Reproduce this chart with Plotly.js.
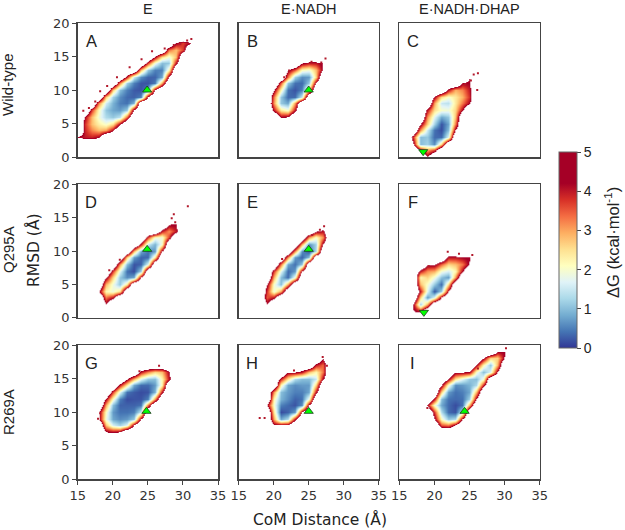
<!DOCTYPE html>
<html><head><meta charset="utf-8">
<script src="https://cdn.plot.ly/plotly-3.0.1.min.js"></script>
<style>html,body{margin:0;padding:0;background:#fff}</style></head>
<body><div id="c" style="width:625px;height:530px"></div>
<script>
const columnTitles=["E","E·NADH","E·NADH·DHAP"];
const rowTitles=["Wild-type","Q295A","R269A"];
const letters=["A","B","C","D","E","F","G","H","I"];
const xTicks=[15,20,25,30,35];
const yTicks=[0,5,10,15,20];
const cbTicks=[0,1,2,3,4,5];
const OUT=6;
// first y of each panel's table, first x of each row, dG values along the row (1 A grid)
const A_y0=3, A_xs=[15,16,16,16,17,18,19,20,21,22,24,25,26,28,29];
const A_z=[[4.2,4,3.9,4.2],[3.9,3.2,2.8,3,4.1],[3.8,2.8,2.3,2,2.5,4.2],[4.2,2.8,1.9,1.3,1.1,1.4,3.4],[3.7,2.1,1.1,.8,.7,1.1,4.6],[3.2,1.6,.9,.5,.4,.9],[2.7,1.2,.6,.35,.3,.5,4.6],[2.7,1,.5,.25,.2,.6,4.5],[3.2,1.2,.5,.2,.2,.45,3],[3.9,1.5,.6,.3,.3,.8,4.6],[2.8,1.1,.5,.5,2.2],[3.7,1.9,1,1.1,4],[4.2,2.5,1.9,2.8],[3.3,2.8,3.7],[4.3,3.7,4.2]];
const B_y0=6, B_xs=[21,20,20,20,20,21,22,22,24];
const B_z=[[4.2,4.4],[4,2.4,2,4],[3.1,1.1,.8,3],[3.3,1.1,.35,.35,1.5],[4.4,2.2,.4,.2,.5,2.6],[3.5,1.1,.4,.35,1.1,4.4],[3.3,1.2,.6,.7,2.6],[4.4,3.5,2.1,1.9,2.8,4.4],[4.4,4,4,4.4]];
const C_y0=0, C_xs=[19,18,17,17,18,18,19,19,20,20,22,24,25];
const C_z=[[4.4],[4.4,3,3.7],[4.4,1,1.2,.6,2.6],[3.7,1,1.1,.35,.35,1.7],[3.1,1.5,.4,.15,1,4.4],[4.4,2.6,1.2,.2,.8,3.3],[3.1,1.7,.8,1.1,2.8],[4,2.5,2,1.9,2.6,4.2],[3,1.5,1.4,2.4,3.3,4.2],[4.2,2.5,2,2.4,2.9,3.8],[4,2.9,3.2,4],[4.2,4.2],[4.4,4.4]];
const D_y0=2, D_xs=[19,19,18,19,19,20,21,22,23,24,25,27,28];
const D_z=[[4.4],[3.3,4],[4.4,2.2,1.9,2.5],[2.9,1.9,1.1,2.4],[4.4,2.6,1.1,.6,.8,4.4],[3.7,1.7,.4,.15,1.2],[3.1,1,.2,.3,1.7],[2.6,.7,.3,.35,2.4],[2.8,.8,.4,.7,4.4],[4,1.5,.9,2],[3.7,2,1.9,3.7],[3.9,3.1,4],[4.4,4.2]];
const E_y0=2, E_xs=[19,19,19,19,20,20,21,22,23,24,25,26];
const E_z=[[4.4],[3.5,4],[3.8,1.9,3],[4.4,2,1,3],[2.9,1,.35,1.9],[3.7,1.7,.35,.7,4.4],[3.3,.8,.4,1.1],[3.1,.7,.3,1],[3.1,.6,.2,1.3],[2.9,.6,1.2,4.4],[3.1,2,3.1],[4.4,4]];
const F_y0=1, F_xs=[17,17,18,18,18,18,18,19,22];
const F_z=[[4.4,4.2],[4.2,1.2,3],[2.6,.7,1.7,4.4],[4,1.7,.2,1.2,4.4],[2.8,2,1.1,.35,2.6],[2.2,2.6,1.9,1,.7,3.1],[3.9,3.1,2.9,1.9,1.6,2.2,4.2],[4.4,4.4,3.4,2.6,2.8,3.3,4.4],[4,4,4.2,4.3]];
const G_y0=7, G_xs=[19,19,18,18,19,19,20,21,22,24];
const G_z=[[4.4,4.2,4.4],[2.8,1.6,1.2,1.7,4.4],[4.4,1.9,.8,.6,.7,1.1,4.4],[4.4,2.1,.7,.4,.4,.5,1.5],[3,1,.3,.3,.3,.4,3.3],[4.2,2.1,.5,.15,.2,.2,.5,3.1],[3.7,1.7,.4,.25,.15,.2,.9,4],[4,2.4,.8,.35,.35,.7,2.2],[4.4,2.9,1.7,1.1,1,2.2,4],[4,3.2,2.6,2.8,4.2]];
const H_y0=8, H_xs=[20,20,20,19,20,20,21,21,22,26,27];
const H_z=[[4.4,4.4,4.4],[3,.8,1.3,4],[2.4,.15,.3,.7,4.4],[4.4,2,.5,.35,.2,.6,4.4],[2.2,.9,.6,.3,.4,1.9],[3.1,1,.7,.5,.5,.8,4],[2.2,.8,.6,.7,.7,2.6],[3.9,2.4,1.3,1,1,1.5,4.2],[4.4,4.4,4,2.8,2.2,3.3],[4,3.4],[4.4]];
const I_y0=8, I_xs=[21,20,20,19,20,21,21,22,23,26,27,29];
const I_z=[[3.5,3.3,4.4],[4.4,2.1,1.1,1.3,4.4],[3.7,1.3,.35,.2,1.5],[4.2,2,.8,.35,.15,.4,2.9],[4,1,.4,.35,.4,1.2,4.4],[2.6,.7,.4,.5,.8,2.9],[4.4,2,.6,.7,.9,1.3,3.9],[4.2,2.4,1.7,1.1,1,2],[4.4,4.4,4.2,2,1,1.7,4.4],[4.2,2.2,1.1,2.9],[4.4,2.6,2.6,4.4],[4.2,4.2]];
const markerX=[24.9,25,18.4,24.9,25,18.5,24.8,25,24.3];
const markerY=[10,10,0.8,10.25,10.25,0.8,10.1,10.1,10.1];
const markerSym=["triangle-up","triangle-up","triangle-down","triangle-up","triangle-up","triangle-down","triangle-up","triangle-up","triangle-up"];
// isolated high-energy specks around the basins, per panel
const speckX=[[15.8,16.6,17.5,18.2,19.2,20.6,22.4,24.1,25.6,27.4,28.7,29.6,30.6,31.2],[22.2,21.5,25.4,26.8,27.4],[26.2,25.2,25.6,24.4,26.1],[30.7,28.7,28.4,19.5,21,28.9],[27.2,26.6,25.5,21.2],[21.9,23.5,25.4,19.2],[18.2,17.9,23.8,26.6],[18,18.7,22.9,27,27.6],[19,30.2,26.2]];
const speckY=[[6.9,7.3,8.3,9.8,10.6,11.9,13.4,14.6,15.8,16.2,16.7,16.9,17.4,17.6],[12.9,11.9,14.2,14.1,14.7],[12.5,11.4,12.3,10.9,10],[16.7,15.5,14.9,7.1,8.7,14.3],[13.7,13.2,12.4,8.8],[9.9,9.6,9.4,7.7],[9.8,9,16.1,16.9],[9.1,9.1,16.2,18.2,16.9],[10.6,19.5,16.5]];
const stopColors=["#313695","#4575b4","#74add1","#abd9e9","#e0f3f8","#ffffbf","#fee090","#fdae61","#f46d43","#d73027","#a50026"];
const stopValues=[0,.42,.84,1.26,1.68,2.1,2.52,2.94,3.36,3.78,4.2];

const tables=[[A_y0,A_xs,A_z],[B_y0,B_xs,B_z],[C_y0,C_xs,C_z],[D_y0,D_xs,D_z],[E_y0,E_xs,E_z],[F_y0,F_xs,F_z],[G_y0,G_xs,G_z],[H_y0,H_xs,H_z],[I_y0,I_xs,I_z]];
const gx=[],gy=[];for(let i=0;i<=22;i++){gx.push(14+i);gy.push(i-1);}
function fill(t){const z=gy.map(()=>gx.map(()=>OUT));
  t[2].forEach((row,j)=>{const yi=gy.indexOf(t[0]+j);row.forEach((v,k)=>{const xi=gx.indexOf(t[1][j]+k);if(xi>=0&&yi>=0)z[yi][xi]=v;});});return z;}
const CUT=4.35;
const scalePanel=stopValues.map((v,i)=>[v/OUT,stopColors[i]]).concat([[CUT/OUT,"#a50026"],[(CUT+.01)/OUT,"#ffffff"],[1,"#ffffff"]]);
const scaleBar=stopValues.map((v,i)=>[v/5,stopColors[i]]).concat([[1,"#a50026"]]);
const cols=[[77.7,218],[238.7,378.7],[399.3,539.7]];
const rows=[[23,157],[184.3,317.7],[345,479]];
const W=625,H=530;
const data=[],layout={width:W,height:H,margin:{l:0,r:0,t:0,b:0},paper_bgcolor:"#fff",plot_bgcolor:"#fff",showlegend:false,annotations:[]};
const tickF={family:"DejaVu Sans",size:13,color:"#333"};
const note=(px,py,text,font,size,angle)=>layout.annotations.push({xref:"paper",yref:"paper",x:px/W,y:1-py/H,xanchor:"center",yanchor:"middle",text,showarrow:false,textangle:angle||0,font:{family:font,size,color:"#222"}});
tables.forEach((t,i)=>{
  const r=Math.floor(i/3),c=i%3,n=i+1,xk=n==1?"xaxis":"xaxis"+n,yk=n==1?"yaxis":"yaxis"+n,xr=n==1?"x":"x"+n,yr=n==1?"y":"y"+n;
  const base={showgrid:false,zeroline:false,showline:true,mirror:true,linecolor:"#444",linewidth:1.5,ticklen:4,tickwidth:1,tickcolor:"#444",tickfont:tickF,fixedrange:true};
  layout[xk]=Object.assign({},base,{domain:[cols[c][0]/W,cols[c][1]/W],range:[15,35],tickvals:xTicks,showticklabels:r==2,ticks:r==2?"outside":"",anchor:yr});
  layout[yk]=Object.assign({},base,{domain:[1-rows[r][1]/H,1-rows[r][0]/H],range:[0,20],tickvals:yTicks,showticklabels:c==0,ticks:c==0?"outside":"",anchor:xr});
  data.push({type:"heatmap",x:gx,y:gy,z:fill(t),zmin:0,zmax:OUT,zsmooth:"best",colorscale:scalePanel,showscale:false,hoverinfo:"skip",xaxis:xr,yaxis:yr});
  data.push({type:"scatter",mode:"markers",x:speckX[i],y:speckY[i],marker:{symbol:"square",size:2,color:"#b2182b",line:{width:0}},hoverinfo:"skip",xaxis:xr,yaxis:yr});
  data.push({type:"scatter",mode:"markers",x:[markerX[i]],y:[markerY[i]],cliponaxis:false,marker:{symbol:markerSym[i],size:8,color:"#00ff00",line:{color:"#1a3a1a",width:0.8}},hoverinfo:"skip",xaxis:xr,yaxis:yr});
  note(cols[c][0]+13.5,rows[r][0]+18,letters[i],"Liberation Sans",16.5);
});
// colour bar from a heatmap that lies outside the visible range
data.push({type:"heatmap",x:[100,101],y:[100,101],z:[[0,5],[0,5]],zmin:0,zmax:5,colorscale:scaleBar,hoverinfo:"skip",xaxis:"x",yaxis:"y",
  colorbar:{thickness:18,thicknessmode:"pixels",len:196/H,lenmode:"fraction",x:559/W,xanchor:"left",y:1-250/H,yanchor:"middle",xpad:0,ypad:0,outlinecolor:"#666",outlinewidth:1,tickvals:cbTicks,ticks:"outside",ticklen:4,tickcolor:"#444",tickfont:{family:"Liberation Sans",size:14,color:"#222"}}});
note(612,243,"ΔG (kcal·mol<sup>-1</sup>)","Liberation Sans",16.5,-90);
columnTitles.forEach((s,c)=>note((cols[c][0]+cols[c][1])/2,9,s,"Liberation Sans",14.5));
rowTitles.forEach((s,r)=>note(8,[85,250,412][r],s,"Liberation Sans",15,-90));
note(33,250,"RMSD (Å)","DejaVu Sans",15.5,-90);
note(320,519,"CoM Distance (Å)","DejaVu Sans",15.5);
Plotly.newPlot("c",data,layout,{displayModeBar:false,staticPlot:true});
</script></body></html>
